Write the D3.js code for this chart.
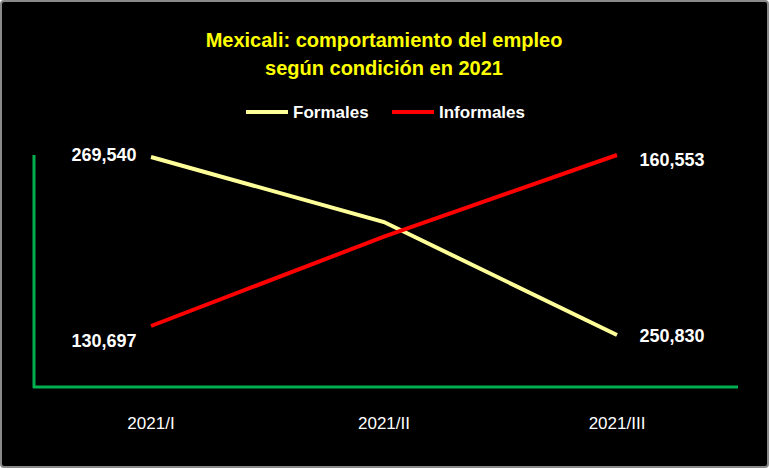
<!DOCTYPE html>
<html><head><meta charset="utf-8">
<script src="https://cdn.jsdelivr.net/npm/d3@7"></script>
<style>body{margin:0;background:#fff}</style>
</head><body><svg></svg>
<script>
var periods = ["2021/I", "2021/II", "2021/III"];
var formales = [269540, 262700, 250830];
var informales = [130697, 146300, 160553];

var W = 769, H = 468;
var svg = d3.select("svg").attr("width", W).attr("height", H);
var font = "'Liberation Sans', Arial, sans-serif";

svg.append("rect").attr("x", 1).attr("y", 1).attr("width", W - 2).attr("height", H - 2)
    .attr("rx", 3).attr("fill", "#000").attr("stroke", "#8a8a8a").attr("stroke-width", 2);

// title
svg.append("text").attr("x", 384).attr("y", 47).attr("text-anchor", "middle")
    .attr("fill", "#ffff00").attr("font-family", font).attr("font-weight", "bold").attr("font-size", 20)
    .text("Mexicali: comportamiento del empleo");
svg.append("text").attr("x", 384).attr("y", 75).attr("text-anchor", "middle")
    .attr("fill", "#ffff00").attr("font-family", font).attr("font-weight", "bold").attr("font-size", 20)
    .text("según condición en 2021");

// legend
var legend = [{name: "Formales", color: "#ffff99", x: 246}, {name: "Informales", color: "#ff0000", x: 392}];
legend.forEach(function(l) {
    svg.append("line").attr("x1", l.x).attr("x2", l.x + 42).attr("y1", 112).attr("y2", 112)
        .attr("stroke", l.color).attr("stroke-width", 4);
    svg.append("text").attr("x", l.x + 47).attr("y", 118).attr("fill", "#fff")
        .attr("font-family", font).attr("font-weight", "bold").attr("font-size", 17).text(l.name);
});

var x = d3.scalePoint().domain(periods).range([151, 617]);
var yF = d3.scaleLinear().domain([245365, 269750]).range([387, 155]);
var yI = d3.scaleLinear().domain([120046, 160553]).range([387, 155]);

// axes
svg.append("line").attr("x1", 34).attr("x2", 34).attr("y1", 155).attr("y2", 388)
    .attr("stroke", "#00b050").attr("stroke-width", 3);
svg.append("line").attr("x1", 33).attr("x2", 738).attr("y1", 387).attr("y2", 387)
    .attr("stroke", "#00b050").attr("stroke-width", 3);
svg.selectAll(".xl").data(periods).enter().append("text")
    .attr("x", function(d) { return x(d); }).attr("y", 429).attr("text-anchor", "middle")
    .attr("fill", "#fff").attr("font-family", font).attr("font-size", 17).text(function(d) { return d; });

var fmt = d3.format(",");
function series(vals, y, color, labelDy) {
    var line = d3.line().x(function(d, i) { return x(periods[i]); }).y(function(d) { return y(d); });
    svg.append("path").datum(vals).attr("d", line).attr("fill", "none")
        .attr("stroke", color).attr("stroke-width", 4);
    [0, vals.length - 1].forEach(function(i, k) {
        svg.append("text")
            .attr("x", x(periods[i]) + (k === 0 ? -47 : 55))
            .attr("y", y(vals[i]) + labelDy[k])
            .attr("text-anchor", "middle").attr("fill", "#fff")
            .attr("font-family", font).attr("font-weight", "bold").attr("font-size", 18)
            .text(fmt(vals[i]));
    });
}
series(formales, yF, "#ffff99", [4, 7]);
series(informales, yI, "#ff0000", [21, 11]);
</script></body></html>
